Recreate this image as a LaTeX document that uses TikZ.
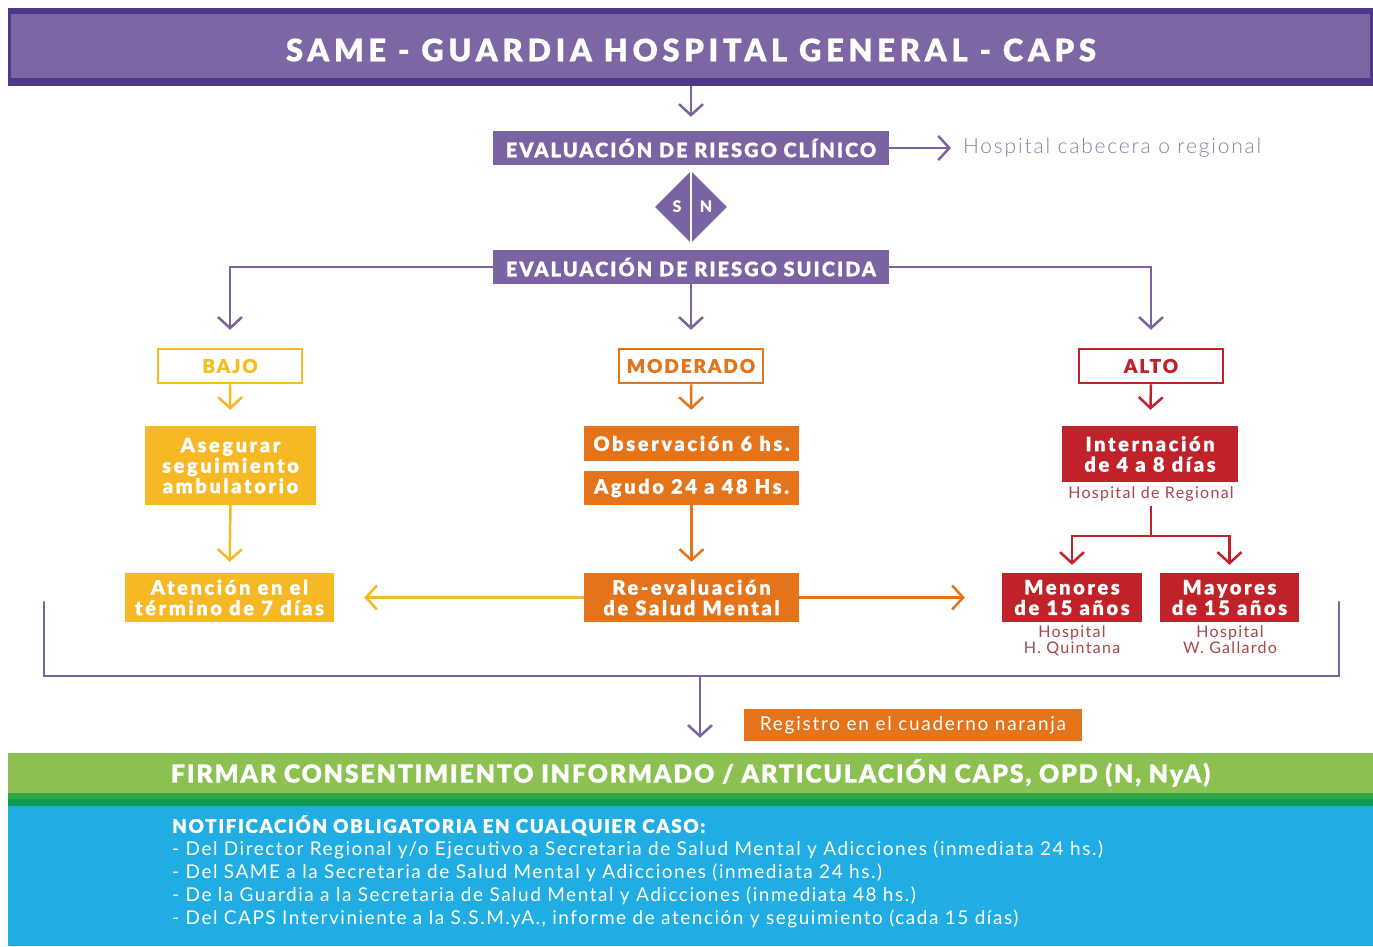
\documentclass[tikz,border=0pt]{standalone}
\usepackage{fontspec}
\setmainfont{Lato}[BoldFont={Lato Black}]
\newfontfamily\lightfont{Lato Light}
\usetikzlibrary{arrows.meta,shapes.geometric}

\definecolor{hdrfill}{HTML}{7E66A4}
\definecolor{hdrline}{HTML}{4F388A}
\definecolor{purp}{HTML}{7B62A3}
\definecolor{purptext}{HTML}{8A7EA5}
\definecolor{yel}{HTML}{F6B824}
\definecolor{yelline}{HTML}{F4BF1C}
\definecolor{ora}{HTML}{E5731A}
\definecolor{redd}{HTML}{C0222A}
\definecolor{redtext}{HTML}{A9434B}
\definecolor{grn}{HTML}{8CC152}
\definecolor{grnmid}{HTML}{2FA84A}
\definecolor{grndark}{HTML}{119A52}
\definecolor{blu}{HTML}{20ADE3}

\tikzset{
  conn/.style={line width=2.5pt},
  arr/.style={conn, -{Straight Barb[length=11pt,width=24pt]}},
  fillbox/.style={rectangle, inner sep=0pt, align=center, text=white,
    font=\bfseries\fontsize{20}{20.5}\selectfont\addfontfeatures{LetterSpace=13,FakeBold=0.6}},
  outbox/.style={rectangle, inner sep=0pt, draw, line width=2.5pt, fill=white,
    minimum width=144pt, minimum height=34pt,
    font=\bfseries\fontsize{19}{20}\selectfont\addfontfeatures{LetterSpace=10,FakeBold=0.6}},
  evalbox/.style={fillbox, fill=purp, minimum width=396pt, minimum height=34pt,
    font=\bfseries\fontsize{20}{22}\selectfont\addfontfeatures{LetterSpace=10,FakeBold=0.6}},
  smalllbl/.style={inner sep=0pt, align=center, text=redtext,
    font=\fontsize{16}{14}\selectfont\addfontfeatures{LetterSpace=8}},
}

\begin{document}
\begin{tikzpicture}[x=1pt,y=-1pt]
\useasboundingbox (0,0) rectangle (1373,946);
\fill[white] (0,0) rectangle (1373,946);

% header band
\fill[hdrline] (8,8) rectangle (1373,86);
\fill[hdrfill] (11,14) rectangle (1370,78);
\node[text=white, font=\bfseries\fontsize{31}{34}\selectfont\addfontfeatures{LetterSpace=15,FakeBold=0.6}]
  (hdr) at (691,50) {SAME - GUARDIA HOSPITAL GENERAL - CAPS};
\coordinate (hdrb) at (691,86);

% clinical risk
\node[evalbox] (clin) at (691,148) {EVALUACIÓN DE RIESGO CLÍNICO};
\draw[arr, purp, shorten >=14pt] (hdrb) -- (clin.north);
\node[anchor=west, inner sep=0pt, text=purptext,
  font=\lightfont\fontsize{21}{22}\selectfont\addfontfeatures{LetterSpace=8.5}]
  (hcab) at (963,148) {Hospital cabecera o regional};
\draw[arr, purp, shorten >=12pt] (clin.east) -- (hcab.west);

% yes / no diamond
\node[diamond, fill=purp, inner sep=0pt, minimum width=72pt, minimum height=72pt] (sn) at (691,207) {};
\draw[white, line width=1.5pt] (sn.north) -- (sn.south);
\node[text=white, font=\bfseries\fontsize{16}{16}\selectfont] at (677,207) {S};
\node[text=white, font=\bfseries\fontsize{16}{16}\selectfont] at (706,207) {N};

% suicide risk
\node[evalbox] (sui) at (691,267) {EVALUACIÓN DE RIESGO SUICIDA};

% risk levels
\node[outbox, draw=yelline, text=yelline] (bajo) at (230,366) {BAJO};
\node[outbox, draw=ora, text=ora] (mod) at (691,366) {MODERADO};
\node[outbox, draw=redd, text=redd] (alto) at (1151,366) {ALTO};

\draw[arr, purp, shorten >=18pt] (sui.west) -| (bajo.north);
\draw[arr, purp, shorten >=18pt] (sui.south) -- (mod.north);
\draw[arr, purp, shorten >=18pt] (sui.east) -| (alto.north);

% low risk branch
\node[fillbox, fill=yel, minimum width=171pt, minimum height=79pt] (aseg) at (230.5,465.5)
  {Asegurar\\seguimiento\\ambulatorio};
\node[fillbox, fill=yel, minimum width=209pt, minimum height=49pt] (aten) at (229.5,597.5)
  {Atención en el\\término de 7 días};
\draw[arr, yel, shorten >=16pt] (bajo.south) -- (aseg.north);
\draw[arr, yel, shorten >=11pt] (aseg.south) -- (aten.north);

% moderate risk branch
\node[fillbox, fill=ora, minimum width=215pt, minimum height=35pt] (obs) at (691.5,443.5)
  {Observación 6 hs.};
\node[fillbox, fill=ora, minimum width=215pt, minimum height=34pt] (agu) at (691.5,488)
  {Agudo 24 a 48 Hs.};
\node[fillbox, fill=ora, minimum width=215pt, minimum height=49pt] (reev) at (691.5,597.5)
  {Re-evaluación\\de Salud Mental};
\draw[arr, ora, shorten >=16pt] (mod.south) -- (obs.north);
\draw[arr, ora, shorten >=11pt] (agu.south) -- (reev.north);

% high risk branch
\node[fillbox, fill=redd, minimum width=176pt, minimum height=56pt] (intn) at (1150,454)
  {Internación\\de 4 a 8 días};
\node[smalllbl, anchor=north] (hreg) at (1151,487) {Hospital de Regional};
\node[fillbox, fill=redd, minimum width=140pt, minimum height=49pt] (men) at (1072,597.5)
  {Menores\\de 15 años};
\node[fillbox, fill=redd, minimum width=139pt, minimum height=49pt] (may) at (1229.5,597.5)
  {Mayores\\de 15 años};
\node[smalllbl, anchor=north] (hq) at (1072,626) {Hospital\\H. Quintana};
\node[smalllbl, anchor=north] (hg) at (1230,626) {Hospital\\W. Gallardo};
\draw[arr, redd, shorten >=16pt] (alto.south) -- (intn.north);
\coordinate (fork) at (1151,536);
\draw[conn, redd] (hreg.south) ++(0,4) -- (fork);
\draw[arr, redd, shorten >=8pt] (fork) -| (men.north);
\draw[arr, redd, shorten >=8pt] (fork) -| (may.north);

% re-evaluation outcomes
\draw[arr, yel, shorten >=30pt] (reev.west) -- (aten.east);
\draw[arr, ora, shorten >=37pt] (reev.east) -- (men.west);

% collecting bracket
\coordinate (bl) at (44,602);
\coordinate (blb) at (44,676);
\coordinate (brb) at (1339,676);
\coordinate (br) at (1339,602);
\coordinate (join) at (700,676);
\draw[conn, purp, line cap=round] (bl) -- (blb) -- (brb) -- (br);

% record note
\node[fillbox, fill=ora, minimum width=338pt, minimum height=32pt,
  font=\fontsize{19}{20}\selectfont\addfontfeatures{LetterSpace=9}] (reg) at (913,725)
  {Registro en el cuaderno naranja};

% consent band
\node[rectangle, fill=grn, inner sep=0pt, minimum width=1365pt, minimum height=40pt,
  text=white, font=\bfseries\fontsize{25}{27}\selectfont\addfontfeatures{LetterSpace=7,FakeBold=0.6}]
  (firm) at (690.5,773) {FIRMAR CONSENTIMIENTO INFORMADO / ARTICULACIÓN CAPS, OPD (N, NyA)};
\fill[grnmid] (8,793) rectangle (1373,799);
\fill[grndark] (8,799) rectangle (1373,806);
\draw[arr, purp, shorten >=15pt] (join) -- (join |- firm.north);

% notification band
\fill[blu] (8,806) rectangle (1373,946);
\node[anchor=north west, inner sep=0pt, align=left, text=white,
  font=\fontsize{19}{23}\selectfont\addfontfeatures{LetterSpace=8}] (notif) at (172,815)
  {{\bfseries\addfontfeatures{FakeBold=0.6}NOTIFICACIÓN OBLIGATORIA EN CUALQUIER CASO:}\\
   - Del Director Regional y/o Ejecutivo a Secretaria de Salud Mental y Adicciones (inmediata 24 hs.)\\
   - Del SAME a la Secretaria de Salud Mental y Adicciones (inmediata 24 hs.)\\
   - De la Guardia a la Secretaria de Salud Mental y Adicciones (inmediata 48 hs.)\\
   - Del CAPS Interviniente a la S.S.M.yA., informe de atención y seguimiento (cada 15 días)};
\end{tikzpicture}
\end{document}
